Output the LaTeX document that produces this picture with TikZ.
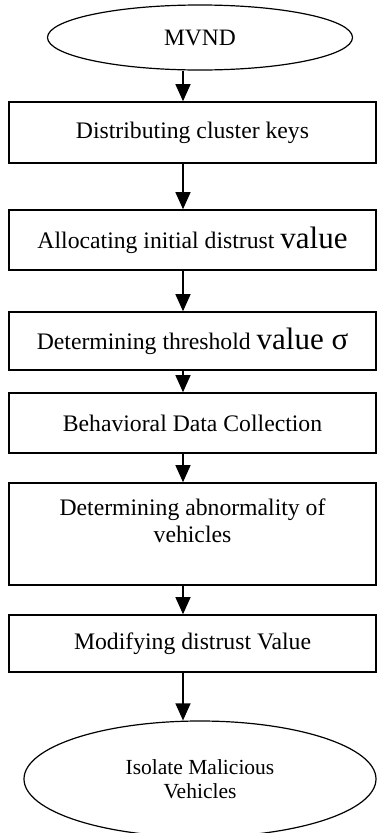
\documentclass[tikz,border=0pt]{standalone}
\usepackage{fontspec}
\setmainfont{Liberation Serif}
\usepackage{tikz}
\usetikzlibrary{positioning}
\usetikzlibrary{arrows.meta,shapes}
\newcommand{\bigval}[1]{{\fontsize{31}{32}\selectfont #1}}
\tikzstyle{stepbox}=[rectangle,draw=black,line width=1.6pt,minimum width=367pt,inner sep=0pt,align=center,font=\fontsize{23.7}{27}\selectfont]
\tikzstyle{terminal}=[ellipse,draw=black,line width=1.2pt,inner sep=0pt,align=center]
\tikzstyle{edge} = [draw,line width=1.2pt,-{Triangle[width=15pt,length=17pt]}]

\begin{document}
\begin{tikzpicture}[x=1pt,y=-1pt]

 \useasboundingbox (0,0) rectangle (377,833);

 %start and end
 \node[terminal, minimum width=305pt, minimum height=65pt, font=\fontsize{23.5}{27}\selectfont] (mvnd) at (200,37.5) {MVND};
 \node[terminal, minimum width=352pt, minimum height=116pt, font=\fontsize{21.5}{23.5}\selectfont] (isolate) at (200,779) {Isolate Malicious\\Vehicles};

 %steps
 \foreach \y/\h/\name/\label in {132.5/61/keys/{Distributing cluster keys},
     240/60/init/{Allocating initial distrust \bigval{value}},
     341/58/thres/{Determining threshold \bigval{value σ}},
     423/60/behav/{Behavioral Data Collection},
     534/102/abnorm/{Determining abnormality of\\vehicles\\\mbox{}},
     643.5/57/modify/{Modifying distrust Value}}
        \node[stepbox, minimum height=\h pt] (\name) at (192.5,\y) {\label};

 \coordinate (ax) at (183,0);

 \foreach \source/ \dest in {mvnd/keys, keys/init, init/thres, thres/behav, behav/abnorm, abnorm/modify, modify/isolate}
        \path[edge] (\source.south -| ax) -- (\dest.north -| ax);

\end{tikzpicture}
\end{document}
